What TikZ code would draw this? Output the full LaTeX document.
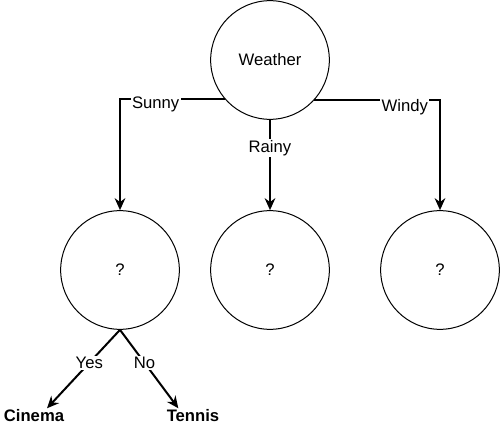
\documentclass[tikz,border=0pt]{standalone}
\usepackage{fontspec}
\setmainfont{Liberation Sans}
\usetikzlibrary{arrows.meta}

\tikzset{
  circ/.style = {circle, draw, line width=0.75pt, minimum size=89pt, inner sep=0pt},
  conn/.style = {line width=1.5pt, -{Stealth[length=9pt,width=8pt]}},
  lbl/.style  = {fill=white, inner sep=1pt},
  leaf/.style = {font=\fontsize{12.5}{15}\selectfont\bfseries, inner sep=1pt}
}

\begin{document}
\begin{tikzpicture}[x=0.75pt, y=-0.75pt, font=\fontsize{12.5}{15}\selectfont]
  \useasboundingbox (0,0) rectangle (500,434);
  \node[circ] (weather) at (270,60) {Weather};
  \node[circ] (sunnyq) at (120,270) {?};
  \node[circ] (rainyq) at (270,270) {?};
  \node[circ] (windyq) at (440,270) {?};
  \node[leaf] (cinema) at (34,416) {Cinema};
  \node[leaf] (tennis) at (193,416) {Tennis};
  \draw[conn] (weather.221.8) -| node[lbl,pos=0.33,yshift=-3.5pt]{Sunny} (sunnyq);
  \draw[conn] (weather) -- node[lbl,pos=0.31]{Rainy} (rainyq);
  \draw[conn] (weather.318.2) -| node[lbl,pos=0.36,yshift=-5pt]{Windy} (windyq);
  \draw[conn] (sunnyq.south) -- node[lbl,pos=0.42]{Yes} ([xshift=9.75pt]cinema.north);
  \draw[conn] (sunnyq.south) -- node[lbl,pos=0.42]{No} ([xshift=-11pt]tennis.north);
\end{tikzpicture}
\end{document}
